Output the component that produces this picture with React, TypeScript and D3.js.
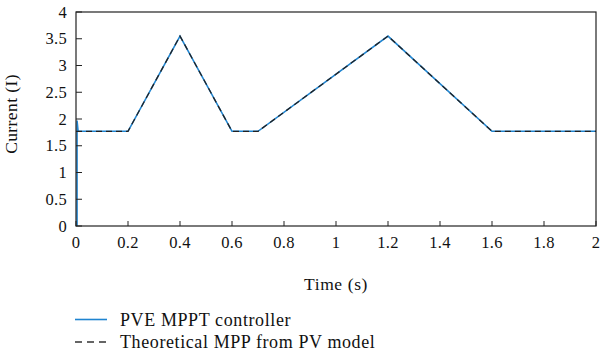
import React from "react";
import * as d3 from "d3";

const timeS = [0.004, 0.004, 0.008, 0.2, 0.4, 0.6, 0.7, 1.2, 1.6, 2.0];
const pveCurrent = [0, 1.97, 1.77, 1.77, 3.55, 1.77, 1.77, 3.55, 1.77, 1.77];
const theoTime = [0, 0.2, 0.4, 0.6, 0.7, 1.2, 1.6, 2.0];
const theoCurrent = [1.77, 1.77, 3.55, 1.77, 1.77, 3.55, 1.77, 1.77];
const xTicks = [0, 0.2, 0.4, 0.6, 0.8, 1, 1.2, 1.4, 1.6, 1.8, 2];
const yTicks = [0, 0.5, 1, 1.5, 2, 2.5, 3, 3.5, 4];
const legendLabels = ["PVE MPPT controller", "Theoretical MPP from PV model"];

const W = 600, H = 358;
const L = 76, R = 596, T = 12, B = 226;
const FONT = "'Liberation Serif', 'DejaVu Serif', serif";

export default function App() {
  const x = d3.scaleLinear().domain([0, 2]).range([L, R]);
  const y = d3.scaleLinear().domain([0, 4]).range([B, T]);
  const line = d3.line<[number, number]>().x(d => x(d[0])).y(d => y(d[1]));
  const pve = line(timeS.map((t, i) => [t, pveCurrent[i]]))!;
  const theo = line(theoTime.map((t, i) => [t, theoCurrent[i]]))!;
  return (
    <svg width={W} height={H} style={{ position: "absolute", left: 0, top: 0, background: "#fff" }} fontFamily={FONT}>
      <path d={pve} fill="none" stroke="#1f84d0" strokeWidth={1.6} />
      <path d={theo} fill="none" stroke="#222" strokeWidth={1.3} strokeDasharray="6 4" />
      <rect x={L} y={T} width={R - L} height={B - T} fill="none" stroke="#222" strokeWidth={1.2} />
      {xTicks.map(t => (
        <g key={"x" + t}>
          <line x1={x(t)} x2={x(t)} y1={B} y2={B - 5} stroke="#222" strokeWidth={1} />
          <text x={x(t)} y={B + 22} textAnchor="middle" fontSize={16.5} letterSpacing={0.3} fill="#111">{t}</text>
        </g>
      ))}
      {yTicks.map(t => (
        <g key={"y" + t}>
          <line x1={L} x2={L + 6} y1={y(t)} y2={y(t)} stroke="#222" strokeWidth={1} />
          <text x={L - 9} y={y(t) + 5.5} textAnchor="end" fontSize={16.5} letterSpacing={0.3} fill="#111">{t}</text>
        </g>
      ))}
      <text x={336} y={290} textAnchor="middle" fontSize={17.5} letterSpacing={0.6} fill="#111">Time (s)</text>
      <text transform={`translate(17,114) rotate(-90)`} textAnchor="middle" fontSize={17.5} letterSpacing={0.4} fill="#111">Current (I)</text>
      <line x1={75} x2={107} y1={319.5} y2={319.5} stroke="#1f84d0" strokeWidth={1.6} />
      <text x={120} y={325.5} fontSize={18} letterSpacing={0.6} fill="#111">{legendLabels[0]}</text>
      <line x1={75} x2={107} y1={342} y2={342} stroke="#333" strokeWidth={1.3} strokeDasharray="7 5" />
      <text x={120} y={348} fontSize={18} letterSpacing={0.6} fill="#111">{legendLabels[1]}</text>
    </svg>
  );
}
